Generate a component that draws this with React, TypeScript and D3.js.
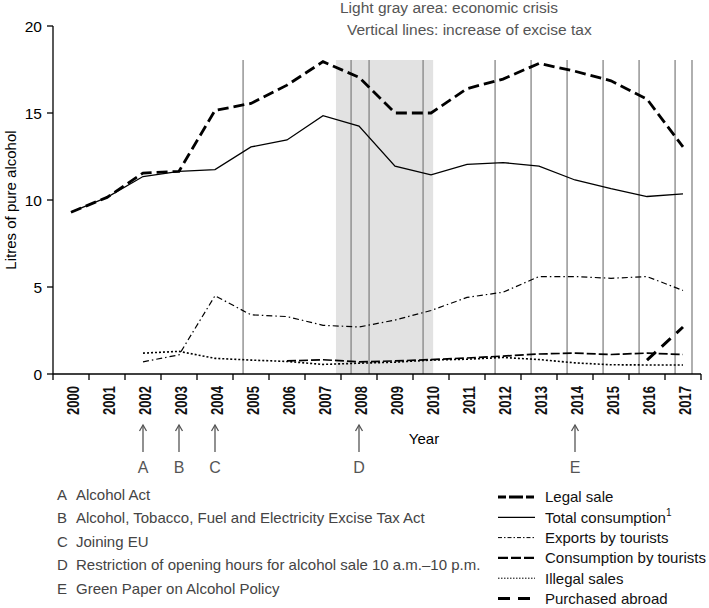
import React from "react";
import * as d3 from "d3";

const years = [2000, 2001, 2002, 2003, 2004, 2005, 2006, 2007, 2008, 2009, 2010, 2011, 2012, 2013, 2014, 2015, 2016, 2017];
const legalSale = [9.3, 10.15, 11.55, 11.65, 15.15, 15.55, 16.6, 17.95, 17.05, 15.0, 15.0, 16.4, 16.95, 17.85, 17.4, 16.85, 15.8, 13.05];
const totalConsumption = [9.3, 10.15, 11.35, 11.65, 11.75, 13.05, 13.45, 14.85, 14.25, 11.95, 11.45, 12.05, 12.15, 11.95, 11.15, 10.65, 10.2, 10.35];
const exportsByTourists = [null, null, 0.7, 1.1, 4.5, 3.4, 3.3, 2.8, 2.7, 3.1, 3.65, 4.4, 4.7, 5.6, 5.6, 5.5, 5.6, 4.8];
const consumptionByTourists = [null, null, null, null, null, null, 0.75, 0.82, 0.7, 0.75, 0.83, 0.92, 1.03, 1.15, 1.2, 1.12, 1.2, 1.12];
const illegalSales = [null, null, 1.2, 1.3, 0.9, 0.8, 0.72, 0.55, 0.62, 0.68, 0.8, 0.85, 0.95, 0.83, 0.64, 0.53, 0.52, 0.52];
const purchasedAbroad = [null, null, null, null, null, null, null, null, null, null, null, null, null, null, null, null, 0.8, 2.7];

const yTicks = [0, 5, 10, 15, 20];
const taxIncreases = [2004.78, 2007.78, 2008.28, 2009.78, 2011.78, 2012.78, 2013.78, 2014.78, 2015.78, 2016.78, 2017.25];
const crisis = [2007.36, 2010.06];

const eventYears = [2002, 2003, 2004, 2008, 2014];
const eventLetters = ["A", "B", "C", "D", "E"];
const eventTexts = [
  "Alcohol Act",
  "Alcohol, Tobacco, Fuel and Electricity Excise Tax Act",
  "Joining EU",
  "Restriction of opening hours for alcohol sale 10 a.m.\u201310 p.m.",
  "Green Paper on Alcohol Policy",
];

const seriesNames = ["Legal sale", "Total consumption", "Exports by tourists", "Consumption by tourists", "Illegal sales", "Purchased abroad"];
const seriesValues = [legalSale, totalConsumption, exportsByTourists, consumptionByTourists, illegalSales, purchasedAbroad];
const seriesStyles = [
  { w: 2.8, dash: "11,5", lw: 2.8, ldash: "8,3,14,3,8" },
  { w: 1.3, dash: "", lw: 1.3, ldash: "" },
  { w: 1.2, dash: "6,3,1.5,3", lw: 1, ldash: "4,2,1.5,2" },
  { w: 1.7, dash: "9,3", lw: 2.2, ldash: "10,3" },
  { w: 1.6, dash: "2,2", lw: 1, ldash: "1.5,1.5" },
  { w: 3, dash: "12,8", lw: 3, ldash: "12,8" },
];

const FONT = "Arial, 'Liberation Sans', sans-serif";

export default function App() {
  const x = d3.scaleLinear().domain([1999.5, 2017.5]).range([53, 701]);
  const y = d3.scaleLinear().domain([0, 20]).range([374, 26]);
  const yTop = 60;

  const line = d3
    .line<number | null>()
    .defined((d) => d !== null)
    .x((_, i) => x(years[i]))
    .y((d) => y(d as number));

  const boundaries = d3.range(0, years.length + 1).map((i) => years[0] - 0.5 + i);

  return (
    <svg width={709} height={608} style={{ position: "absolute", left: 0, top: 0, background: "#fff" }} fontFamily={FONT}>
      <rect x={0} y={0} width={709} height={608} fill="#fff" />
      {/* header notes */}
      <text x={340} y={13} fontSize={15.5} fill="#555">Light gray area: economic crisis</text>
      <text x={347} y={35} fontSize={15.5} fill="#555">Vertical lines: increase of excise tax</text>

      {/* crisis area */}
      <rect x={x(crisis[0])} y={yTop} width={x(crisis[1]) - x(crisis[0])} height={y(0) - yTop} fill="#e2e2e2" />
      {taxIncreases.map((t, i) => (
        <line key={i} x1={x(t)} x2={x(t)} y1={yTop} y2={y(0)} stroke="#858585" strokeWidth={1.3} />
      ))}

      {/* axes */}
      <line x1={x.range()[0]} x2={x.range()[0]} y1={y(20)} y2={y(0)} stroke="#000" strokeWidth={1.3} />
      {yTicks.map((t) => (
        <g key={t}>
          <line x1={47} x2={53} y1={y(t)} y2={y(t)} stroke="#000" strokeWidth={1.3} />
          <text x={42} y={y(t) + 5.5} fontSize={15.5} textAnchor="end" fill="#000">{t}</text>
        </g>
      ))}
      <line x1={x.range()[0]} x2={x.range()[1]} y1={y(0)} y2={y(0)} stroke="#000" strokeWidth={1.3} />
      {boundaries.map((b, i) => (
        <line key={i} x1={x(b)} x2={x(b)} y1={y(0)} y2={y(0) + 6} stroke="#000" strokeWidth={1.3} />
      ))}
      {years.map((yr) => (
        <text key={yr} transform={`translate(${x(yr) + 7.5},386) rotate(-90) scale(1,1.25)`} fontSize={13} fontWeight="bold" textAnchor="end" fill="#111">
          {yr}
        </text>
      ))}
      <text transform={`translate(16,${y(10)}) rotate(-90)`} fontSize={15} textAnchor="middle" fill="#000">Litres of pure alcohol</text>
      <text x={424} y={444} fontSize={15} textAnchor="middle" fill="#000">Year</text>

      {/* series */}
      {seriesValues.map((vals, i) => (
        <path key={i} d={line(vals as (number | null)[]) || ""} fill="none" stroke="#000" strokeWidth={seriesStyles[i].w} strokeDasharray={seriesStyles[i].dash} />
      ))}

      {/* event arrows */}
      {eventYears.map((yr, i) => (
        <g key={yr} stroke="#555" strokeWidth={1.3} fill="none">
          <line x1={x(yr)} x2={x(yr)} y1={452} y2={425} />
          <polyline points={`${x(yr) - 3.5},431 ${x(yr)},425 ${x(yr) + 3.5},431`} />
          <text x={x(yr)} y={473} fontSize={16} textAnchor="middle" fill="#555" stroke="none">{eventLetters[i]}</text>
        </g>
      ))}

      {/* event list */}
      {eventTexts.map((t, i) => (
        <g key={i} fontSize={15} fill="#444">
          <text x={57} y={500 + i * 23.4}>{eventLetters[i]}</text>
          <text x={76} y={500 + i * 23.4}>{t}</text>
        </g>
      ))}

      {/* legend */}
      {seriesNames.map((n, i) => {
        const cy = 497 + i * 20.3;
        return (
          <g key={n}>
            <line x1={498} x2={535} y1={cy} y2={cy} stroke="#000" strokeWidth={seriesStyles[i].lw} strokeDasharray={seriesStyles[i].ldash} />
            <text x={545} y={cy + 5.3} fontSize={15} fill="#111">
              {n}
              {i === 1 ? <tspan fontSize={10} dy={-7}>1</tspan> : null}
            </text>
          </g>
        );
      })}
    </svg>
  );
}
